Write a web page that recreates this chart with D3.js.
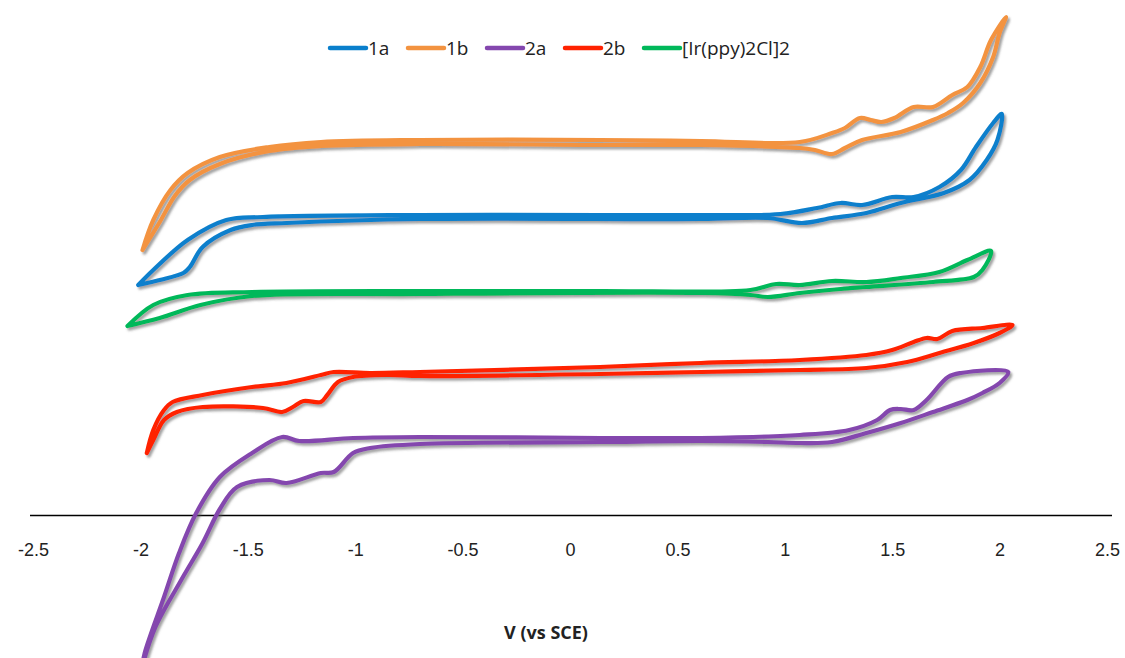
<!DOCTYPE html>
<html>
<head>
<meta charset="utf-8">
<script src="https://cdn.jsdelivr.net/npm/d3@7"></script>
<style>
  body { margin: 0; background: #fff; }
  svg { display: block; font-family: "Open Sans", "Liberation Sans", sans-serif; }
  .axis text { font-size: 18px; fill: #222; }
  .axis path { stroke: #000; stroke-width: 1.3px; }
</style>
</head>
<body>
<svg id="chart"></svg>
<script>
// cyclic voltammograms, [potential V, current a.u.]
const curve1a = [
  [-2.01, 23.0], [-1.94, 24.5], [-1.78, 27.5], [-1.60, 29.5], [-1.43, 29.8], [-0.70, 30.0],
  [0.14, 30.0], [0.61, 30.0], [0.98, 30.1], [1.15, 30.7], [1.26, 31.2], [1.36, 31.0],
  [1.50, 31.8], [1.60, 31.8], [1.72, 32.8], [1.82, 34.5], [1.89, 36.8], [1.97, 39.2], [2.01, 40.1],
  [1.99, 37.5], [1.94, 35.5], [1.86, 33.5], [1.74, 32.2], [1.54, 31.2], [1.38, 30.2],
  [1.22, 29.7], [1.08, 29.2], [0.92, 29.7], [0.61, 29.6], [-0.70, 29.6], [-1.32, 29.2],
  [-1.48, 29.0], [-1.58, 28.5], [-1.71, 26.8], [-1.77, 24.8], [-1.80, 24.2], [-1.91, 23.5], [-2.01, 23.0]
];
const curve1b = [
  [-1.99, 26.5], [-1.94, 29.5], [-1.86, 32.5], [-1.78, 34.2], [-1.63, 35.8], [-1.40, 36.8],
  [-1.16, 37.3], [-0.70, 37.5], [0.14, 37.5], [0.61, 37.4], [1.07, 37.3], [1.22, 38.2],
  [1.28, 38.7], [1.35, 39.7], [1.40, 39.5], [1.45, 39.3], [1.51, 39.7], [1.60, 40.8],
  [1.69, 40.8], [1.78, 42.0], [1.85, 42.8], [1.91, 44.8], [1.96, 47.5], [2.03, 49.8],
  [2.00, 48.2], [1.97, 45.8], [1.91, 43.2], [1.83, 41.2], [1.76, 40.2], [1.69, 39.5],
  [1.54, 38.3], [1.36, 37.5], [1.28, 36.7], [1.22, 36.1], [1.14, 36.5], [1.07, 36.7],
  [0.61, 37.0], [0.14, 37.0], [-0.70, 37.1], [-1.16, 36.9], [-1.40, 36.4], [-1.63, 35.1],
  [-1.77, 33.5], [-1.84, 31.9], [-1.91, 29.3], [-1.99, 26.5]
];
const curve2a = [
  [-1.99, -15.0], [-1.98, -13.8], [-1.89, -8.2], [-1.82, -3.8], [-1.74, 0.2], [-1.63, 3.8],
  [-1.48, 6.2], [-1.34, 7.8], [-1.26, 7.4], [-1.01, 7.7], [-0.70, 7.8], [0.14, 7.7],
  [0.61, 7.7], [1.07, 8.0], [1.30, 8.5], [1.43, 9.5], [1.49, 10.5], [1.54, 10.6],
  [1.60, 10.5], [1.66, 11.5], [1.76, 13.8], [1.82, 14.2], [2.04, 14.3],
  [2.00, 13.2], [1.92, 12.2], [1.85, 11.5], [1.69, 10.3], [1.54, 9.2], [1.38, 8.2],
  [1.22, 7.3], [1.07, 7.2], [0.92, 7.3], [0.61, 7.4], [0.14, 7.3], [-0.70, 7.1],
  [-0.93, 6.7], [-1.01, 6.2], [-1.10, 4.3], [-1.16, 4.2], [-1.32, 3.2], [-1.40, 3.5],
  [-1.55, 2.8], [-1.63, 0.6], [-1.71, -2.8], [-1.81, -6.5], [-1.93, -11.2], [-1.99, -15.0]
];
const curve2b = [
  [-1.97, 6.2], [-1.94, 8.5], [-1.89, 10.5], [-1.85, 11.3], [-1.71, 12.0], [-1.48, 12.8],
  [-1.32, 13.2], [-1.16, 14.0], [-1.10, 14.3], [-0.93, 14.2], [-0.70, 14.3], [0.14, 14.8],
  [0.61, 15.2], [1.07, 15.5], [1.38, 16.0], [1.50, 16.5], [1.60, 17.3], [1.66, 17.7],
  [1.71, 17.6], [1.78, 18.4], [1.92, 18.7], [2.06, 19.0],
  [2.00, 18.2], [1.88, 17.2], [1.72, 16.2], [1.57, 15.3], [1.38, 14.7], [1.07, 14.5],
  [0.61, 14.3], [0.14, 14.1], [-0.70, 13.9], [-0.85, 14.0], [-1.01, 13.8], [-1.08, 13.3],
  [-1.13, 12.0], [-1.16, 11.3], [-1.24, 11.4], [-1.29, 10.8], [-1.34, 10.3], [-1.43, 10.7],
  [-1.71, 10.8], [-1.83, 10.3], [-1.89, 9.5], [-1.94, 7.5], [-1.97, 6.2]
];
const curveIr = [
  [-2.06, 18.9], [-1.94, 21.0], [-1.78, 22.0], [-1.48, 22.3], [-0.70, 22.4], [0.14, 22.4],
  [0.84, 22.5], [0.96, 23.1], [1.07, 23.0], [1.22, 23.4], [1.38, 23.3], [1.54, 23.7],
  [1.72, 24.3], [1.85, 25.5], [1.96, 26.4],
  [1.92, 24.5], [1.88, 23.8], [1.69, 23.3], [1.38, 22.8], [1.26, 22.6], [1.07, 22.2],
  [0.92, 21.8], [0.84, 22.0], [0.61, 22.2], [-0.70, 22.1], [-1.48, 21.9], [-1.72, 21.0],
  [-1.91, 19.7], [-2.06, 18.9]
];

const seriesNames = ["1a", "1b", "2a", "2b", "[Ir(ppy)2Cl]2"];
const seriesColors = ["#0A7FCC", "#F39340", "#8447AE", "#FF2200", "#00B85A"];
const xTicks = [-2.5, -2, -1.5, -1, -0.5, 0, 0.5, 1, 1.5, 2, 2.5];

const curves = [curve1a, curve1b, curve2a, curve2b, curveIr];

const WIDTH = 1125, HEIGHT = 658;

const svg = d3.select("#chart")
    .attr("width", WIDTH)
    .attr("height", HEIGHT);

/* Scales */
const xScale = d3.scaleLinear().domain([-2.5, 2.5]).range([33, 1107]);
const yScale = d3.scaleLinear().domain([-14.3, 50.5]).range([658, 10]);

/* Shadow + clip */
const defs = svg.append("defs");
defs.append("filter")
    .attr("id", "shadow")
    .attr("x", "-5%").attr("y", "-5%")
    .attr("width", "110%").attr("height", "120%")
    .append("feDropShadow")
    .attr("dx", 2).attr("dy", 2.5)
    .attr("stdDeviation", 1.3)
    .attr("flood-color", "#555")
    .attr("flood-opacity", 0.55);

defs.append("clipPath")
    .attr("id", "plot-clip")
    .append("rect")
    .attr("x", 20).attr("y", 0)
    .attr("width", 1100).attr("height", 658);

/* Axis */
const xAxis = d3.axisBottom(xScale)
    .tickValues(xTicks)
    .tickSize(0)
    .tickPadding(28)
    .tickFormat(d => String(d));

svg.append("g")
    .attr("class", "axis")
    .attr("transform", `translate(0, ${yScale(0)})`)
    .call(xAxis)
    .call(g => g.select(".domain").attr("d", `M30,0.5H1112`));

svg.append("text")
    .attr("x", 546)
    .attr("y", 639)
    .attr("text-anchor", "middle")
    .attr("font-weight", "bold")
    .attr("font-size", "18px")
    .attr("fill", "#222")
    .text("V (vs SCE)");

/* Curves */
const line = d3.line()
    .x(d => xScale(d[0]))
    .y(d => yScale(d[1]))
    .curve(d3.curveCatmullRom.alpha(0.5));

svg.append("g")
    .attr("clip-path", "url(#plot-clip)")
    .selectAll("path")
    .data(curves)
    .enter()
    .append("path")
    .attr("d", d => line(d))
    .attr("fill", "none")
    .attr("stroke", (d, i) => seriesColors[i])
    .attr("stroke-width", 4.2)
    .attr("stroke-linejoin", "round")
    .attr("stroke-linecap", "round")
    .attr("filter", "url(#shadow)");

/* Legend */
const legendX = [330, 408, 487, 565, 644];
const legend = svg.append("g").attr("class", "legend");

seriesNames.forEach((name, i) => {
    const g = legend.append("g").attr("transform", `translate(${legendX[i]}, 48)`);
    g.append("line")
        .attr("x1", 0).attr("x2", 36)
        .attr("stroke", seriesColors[i])
        .attr("stroke-width", 4.5)
        .attr("stroke-linecap", "round");
    g.append("text")
        .attr("x", 38)
        .attr("y", 7)
        .attr("font-size", "19px")
        .attr("fill", "#222")
        .text(name);
});
</script>
</body>
</html>
